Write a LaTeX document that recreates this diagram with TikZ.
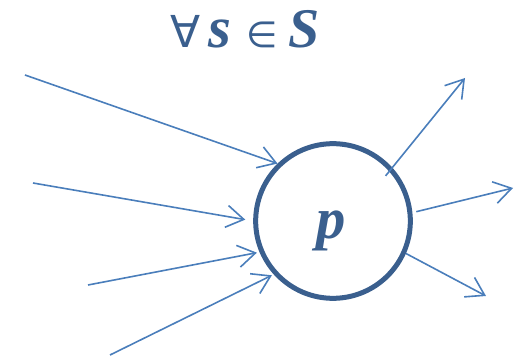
\documentclass[tikz,border=0pt]{standalone}
\usepackage{fontspec}
\setmainfont{Liberation Serif}[BoldItalicFont={Liberation Serif Bold Italic}]
\newfontfamily\symfont{DejaVu Sans}
\usepackage{tikz}
\usetikzlibrary{arrows.meta}
\definecolor{linkblue}{HTML}{4A7EBB}
\definecolor{ringblue}{HTML}{3A5F8E}

\begin{document}
\begin{tikzpicture}[
  x=0.75pt,y=-0.75pt,
  ring/.style={circle,draw=ringblue,line width=3.75pt,
               minimum size=116pt,inner sep=0pt},
  bigtext/.style={text=ringblue,inner sep=0pt,font=\fontsize{#1}{#1}\selectfont\bfseries\itshape},
  arr/.style={-{Straight Barb[length=13pt,width=16.5pt]},line width=1.2pt,linkblue}
]
\useasboundingbox (0,0) rectangle (521,359);
\node[ring] (p) at (333,221) {};
\node[bigtext=44] (plabel) at (331,230.5) {p};
\node[bigtext=40] (title) at (245,29)
  {{\symfont\mdseries\upshape\fontsize{33}{33}\selectfont ∀}\kern6pt{\fontsize{44}{44}\selectfont s}\hspace{11pt}%
   {\symfont\mdseries\upshape\fontsize{27}{27}\selectfont ∈}\hspace{8pt}{\fontsize{42}{42}\selectfont S}};

% incoming
\coordinate (in1) at (25,75);
\coordinate (in2) at (33,183);
\coordinate (in3) at (88,285);
\coordinate (in4) at (110,355);
% outgoing
\coordinate (out1) at (465,78);
\coordinate (out2) at (513,188);
\coordinate (out3) at (486,296);

\draw[arr] (in1) -- (p.134.5);
\draw[arr,shorten >=6pt] (in2) -- (p.180.7);
\draw[arr,shorten >=2pt] (in3) -- (p.203.5);
\draw[arr,shorten >=1.5pt] (in4) -- (p.222);
\draw[arr,shorten <=-8pt] (p.42) -- (out1);
\draw[arr,shorten <=3pt] (p.6.9) -- (out2);
\draw[arr] (p.-24.6) -- (out3);
\end{tikzpicture}
\end{document}
